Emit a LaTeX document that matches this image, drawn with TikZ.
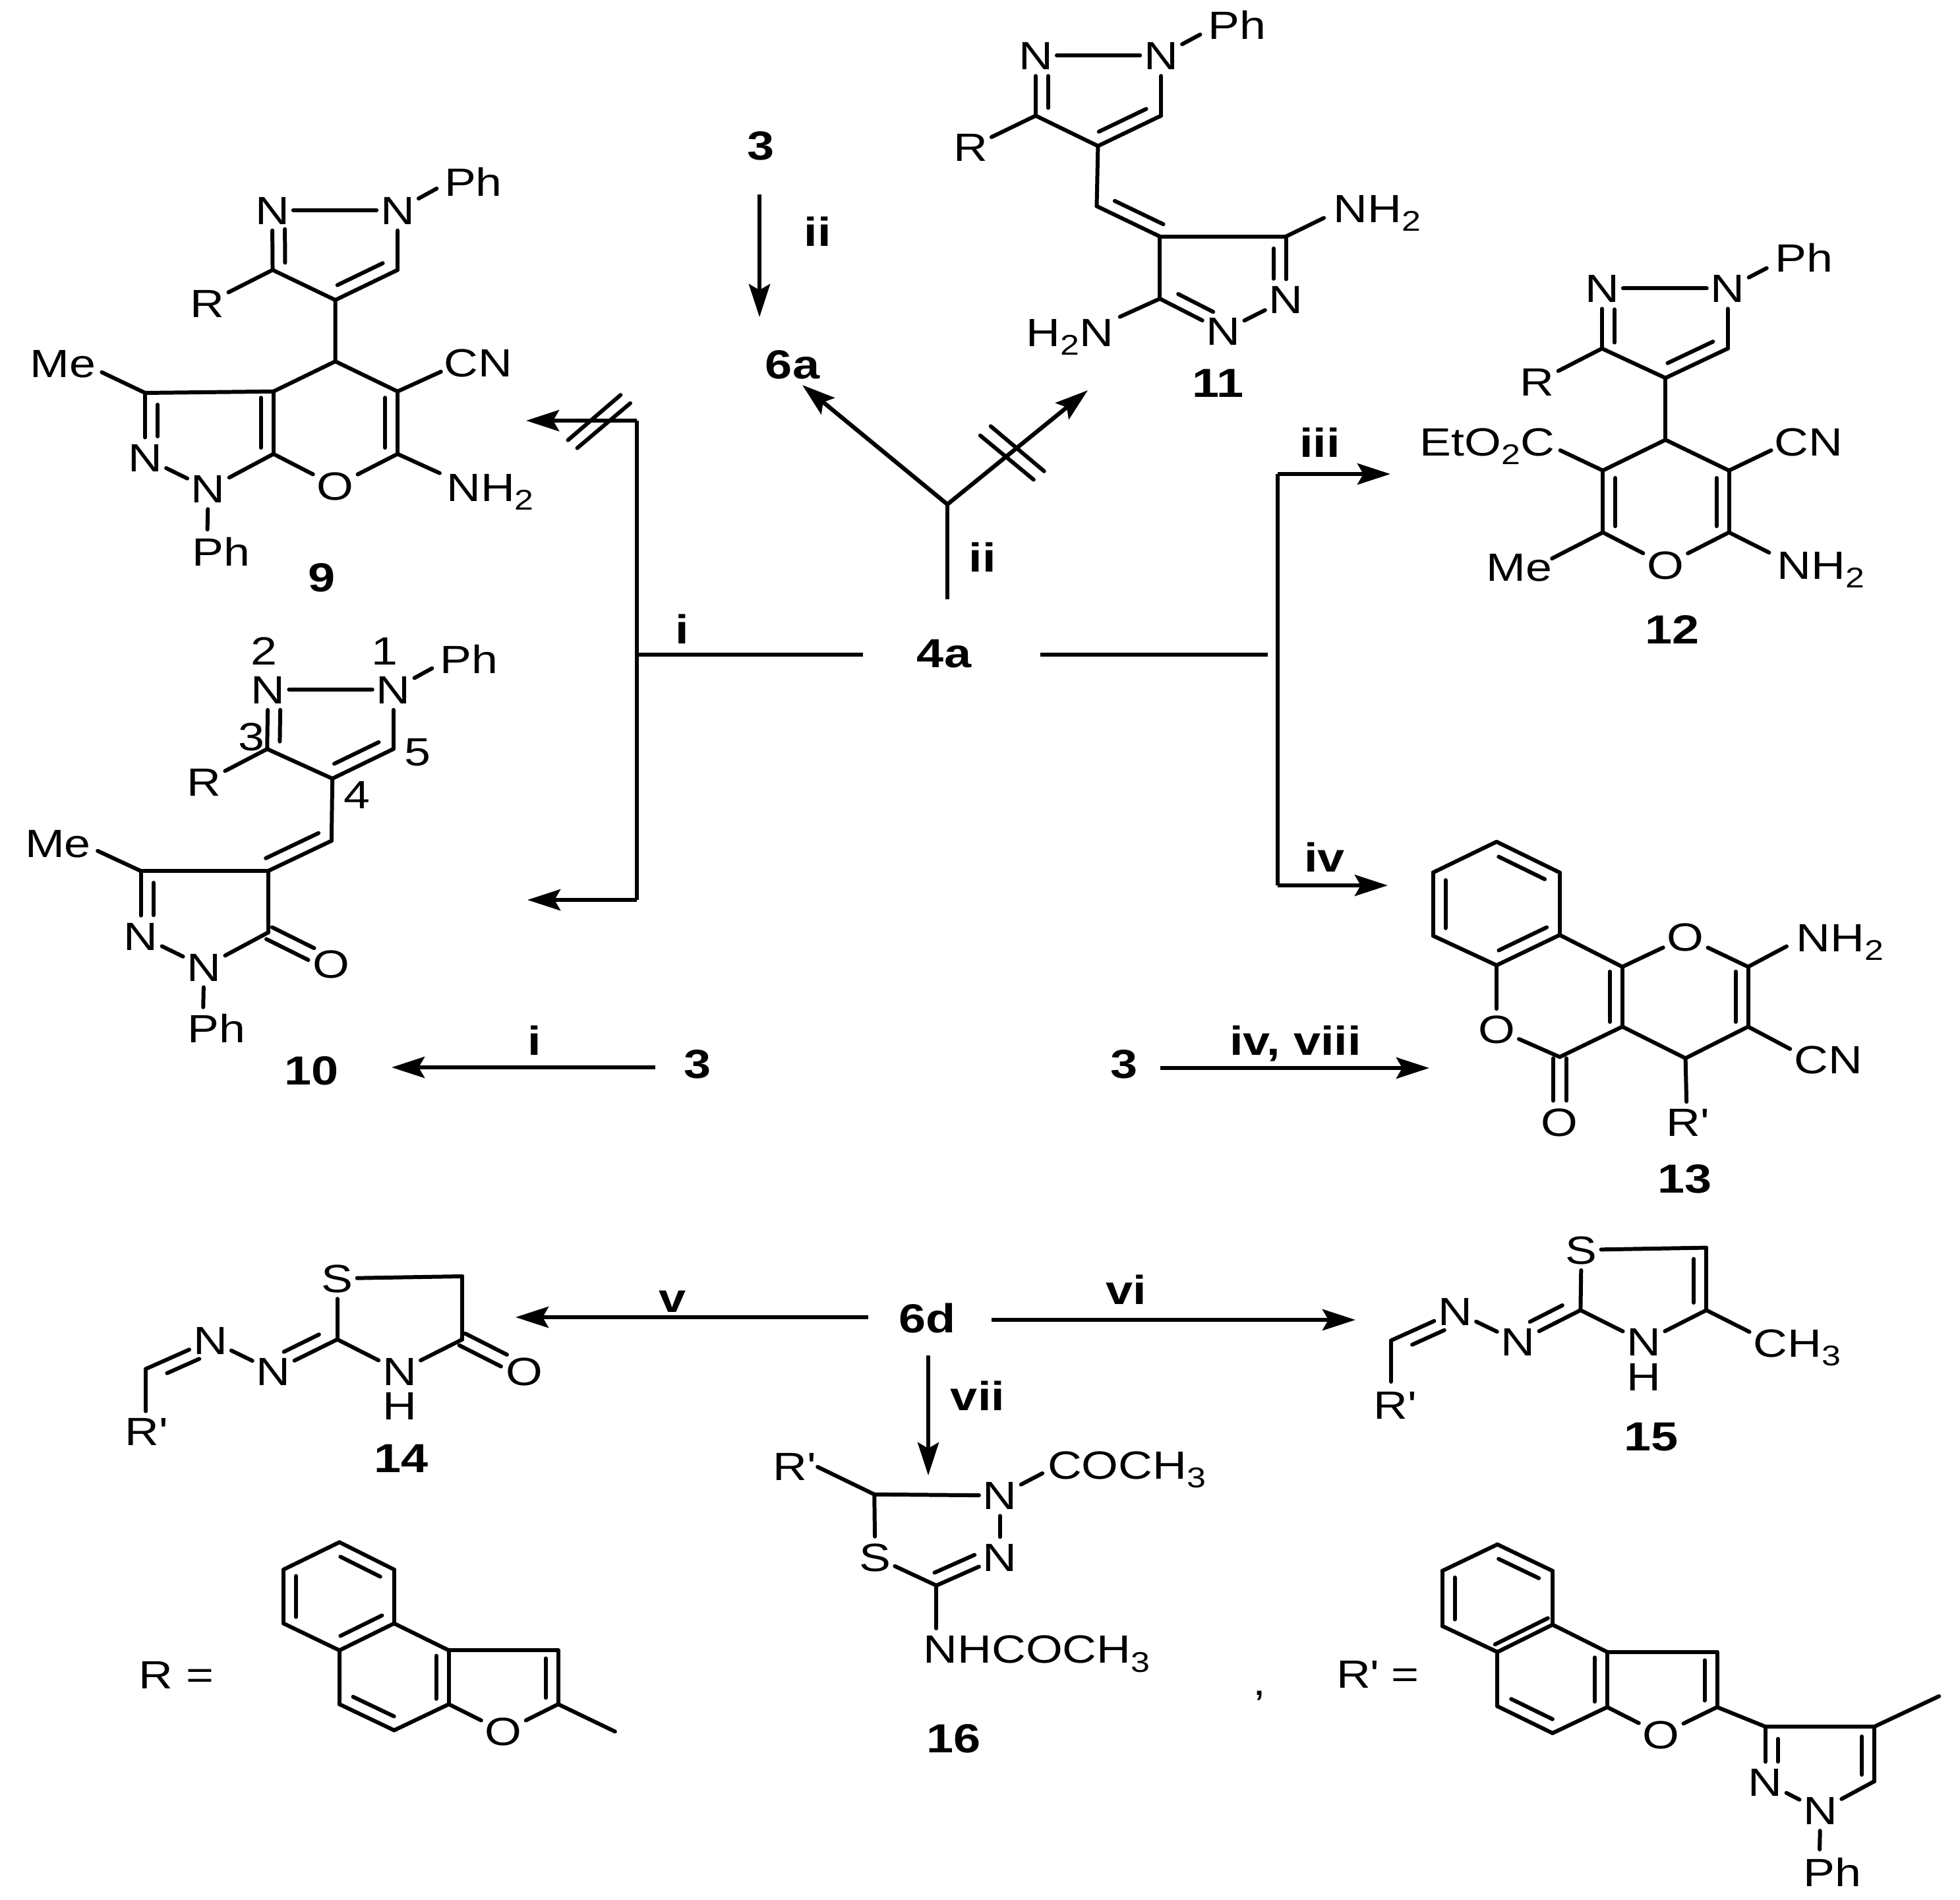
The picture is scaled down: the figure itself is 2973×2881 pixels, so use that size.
\documentclass[tikz,border=0pt]{standalone}
\usepackage{fontspec}
\setmainfont[FakeStretch=1.2]{Liberation Sans}
\usetikzlibrary{calc,arrows.meta}
\tikzset{
  lab/.style={font=\fontsize{17}{20}\selectfont,inner xsep=1.5pt,inner ysep=2.5pt,text height=12.2pt,text depth=0pt},
  blab/.style={font=\fontsize{17.5}{20}\selectfont\bfseries,inner xsep=1.5pt,inner ysep=2.5pt,text height=12.6pt,text depth=0pt},
  bond/.style={line width=1.7pt,line cap=round,line join=round,black},
  rxn/.style={line width=1.8pt,line cap=butt,line join=miter,black},
  arr/.style={rxn,-{Stealth[length=0.5cm,width=0.32cm,inset=0.09cm]}}
}
\newcommand\sbs[1]{\raisebox{-.22em}[0pt][0pt]{\fontsize{12.3}{14}\selectfont #1}}
\newcommand\Rp{R\textquotesingle}
\newcommand\vx[2]{\foreach \vn/\vp in {#2}{\coordinate (#1\vn) at (\vp);}}
\newcommand\nd[3]{\node[lab] (#1) at (#2) {#3};}
\newcommand\nb[3]{\node[blab] (#1) at (#2) {#3};}
\newcommand\dbl[6]{\draw[bond] (#1)--(#2);\draw[bond] ($(#1)!#3!(#2)!#6!#5:(#2)$)--($(#1)!#4!(#2)!#6!#5:(#2)$);}
\newcommand\dL[4]{\dbl{#1}{#2}{#3}{#4}{90}{.19cm}}
\newcommand\dR[4]{\dbl{#1}{#2}{#3}{#4}{-90}{.19cm}}
\newcommand\dC[4]{\draw[bond] ($(#1)!#3!(#2)!.1cm!90:(#2)$)--($(#1)!#4!(#2)!.1cm!90:(#2)$);\draw[bond] ($(#1)!#3!(#2)!.1cm!-90:(#2)$)--($(#1)!#4!(#2)!.1cm!-90:(#2)$);}
\begin{document}
\begin{tikzpicture}[x=.01cm,y=-.01cm]
\useasboundingbox (0,0) rectangle (2973,2881);
\fill[white] (0,0) rectangle (2973,2881);
% ---------- reaction labels and arrows
\nb{t3a}{1154,220}{3}
\nb{tiia}{1240,351}{ii}
\nb{t6a}{1202,552}{6a}
\nb{tiib}{1490,845}{ii}
\nb{t4a}{1432,990}{4a}
\nb{tia}{1035,954}{i}
\nb{tiii}{2002,671}{iii}
\nb{tiv}{2009,1300}{iv}
\nb{t3b}{1058,1613}{3}
\nb{t3c}{1705,1613}{3}
\nb{tib}{811,1578}{i}
\nb{tivv}{1965,1578}{iv, viii}
\nb{tv}{1020,1968}{v}
\nb{t6d}{1407,1999}{6d}
\nb{tvi}{1708,1956}{vi}
\nb{tvii}{1483,2117}{vii}
\vx{k}{a1/{1152,295},a2/{1152,481},y0/{1437,909},y1/{1437,765},y2/{1217,584},y3/{1650,592},
 l1/{1309,993},l2/{966,993},l3/{966,638},l4/{798,638},l5/{966,1365},l6/{800,1365},
 r1/{1578,993},r2/{1923,993},r3/{1938,719},r4/{2109,719},r5/{1938,1343},r6/{2105,1343},
 b1/{994,1619},b2/{594,1619},b3/{1760,1620},b4/{2168,1620},
 v1/{1317,1998},v2/{782,1998},w1/{1504,2002},w2/{2056,2002},u1/{1408,2056},u2/{1408,2238}}
\draw[arr] (ka1)--(ka2);
\draw[rxn] (ky0)--(ky1);
\draw[arr] (ky1)--(ky2);
\draw[arr] (ky1)--(ky3);
\draw[rxn] (kl1)--(kl2);
\draw[arr] (kl3)--(kl4);
\draw[rxn] (kl3)--(kl5);
\draw[arr] (kl5)--(kl6);
\draw[rxn] (kr1)--(kr2);
\draw[arr] (kr3)--(kr4);
\draw[rxn] (kr3)--(kr5);
\draw[arr] (kr5)--(kr6);
\draw[arr] (kb1)--(kb2);
\draw[arr] (kb3)--(kb4);
\draw[arr] (kv1)--(kv2);
\draw[arr] (kw1)--(kw2);
\draw[arr] (ku1)--(ku2);
% ---------- compound 9
\begin{scope}[shift={(0cm,-2cm)},x=.006378cm,y=-.004464cm]
\nd{An2}{647,265}{N}\nd{An1}{945,265}{N}\nd{Aph}{1125,170}{Ph}\nd{Ar}{493,580}{R}
\nd{Ame}{150,785}{Me}\nd{Acn}{1137,782}{CN}\nd{Anh}{1165,1205}{NH\sbs{2}}
\nd{An3}{345,1105}{N}\nd{An4}{495,1210}{N}\nd{Ao}{797,1200}{O}\nd{Aph2}{525,1425}{Ph}
\nb{Alab}{765,1510}{9}
\vx{A}{c3/{648,468},c4/{797,570},c5/{945,468},c6/{797,778},c7/{945,880},c8/{945,1092},c9/{650,1092},c10/{650,880},c11/{345,885},
 ep/{1038,192},ecn/{1048,813},enh/{1045,1157},eme/{242,815},ep2/{493,1348},
 h1/{1350,1045},h2/{1475,892},h3/{1372,1072},h4/{1498,920}}
\dL{An2}{Ac3}{.32}{.88}
\draw[bond] (An2)--(An1);\draw[bond] (An1)--(Ac5);\draw[bond] (Ac3)--(Ac4);
\dL{Ac4}{Ac5}{.12}{.85}
\draw[bond] (Ac4)--(Ac6)--(Ac7);\draw[bond] (Ar)--(Ac3);\draw[bond] (An1)--(Aep);
\draw[bond] (Ac7)--(Aecn);
\dR{Ac7}{Ac8}{.1}{.9}
\draw[bond] (Ac8)--(Aenh);\draw[bond] (Ac8)--(Ao);\draw[bond] (Ao)--(Ac9);
\dL{Ac9}{Ac10}{.1}{.9}
\draw[bond] (Ac10)--(Ac6);\draw[bond] (Ac10)--(Ac11);\draw[bond] (Ac11)--(Aeme);
\dL{Ac11}{An3}{.18}{.67}
\draw[bond] (An3)--(An4);\draw[bond] (An4)--(Ac9);\draw[bond] (An4)--(Aep2);
\draw[bond] (Ah1)--(Ah2);\draw[bond] (Ah3)--(Ah4);
\end{scope}
% ---------- compound 10
\begin{scope}[shift={(0cm,-9cm)},x=.006378cm,y=-.005102cm]
\nd{Bn2}{637,285}{N}\nd{Bn1}{935,285}{N}\nd{Bph}{1115,195}{Ph}\nd{Br}{485,560}{R}\nd{Bme}{138,742}{Me}
\nd{Bn3}{335,1018}{N}\nd{Bn4}{485,1110}{N}\nd{Bo}{788,1102}{O}\nd{Bph2}{515,1293}{Ph}
\nd{Bd2}{627,170}{2}\nd{Bd1}{915,170}{1}\nd{Bd3}{598,425}{3}\nd{Bd4}{848,597}{4}\nd{Bd5}{993,470}{5}
\nb{Blab}{740,1418}{10}
\vx{B}{c3/{635,462},c4/{790,550},c5/{935,462},c6/{788,735},c7/{637,825},c8/{335,825},c9/{637,1008},
 ep/{1027,222},eme/{232,765},ep2/{483,1230}}
\dL{Bn2}{Bc3}{.34}{.87}
\draw[bond] (Bn2)--(Bn1);\draw[bond] (Bn1)--(Bc5);\draw[bond] (Bc3)--(Bc4);
\dL{Bc4}{Bc5}{.12}{.85}
\draw[bond] (Bc4)--(Bc6);\draw[bond] (Br)--(Bc3);\draw[bond] (Bn1)--(Bep);
\dR{Bc6}{Bc7}{.12}{.95}
\draw[bond] (Bc7)--(Bc8);\draw[bond] (Bc8)--(Beme);
\dL{Bc8}{Bn3}{.18}{.68}
\draw[bond] (Bn3)--(Bn4);\draw[bond] (Bn4)--(Bc9);\draw[bond] (Bc7)--(Bc9);
\dC{Bc9}{Bo}{.02}{.68}
\draw[bond] (Bn4)--(Bep2);
\end{scope}
% ---------- compound 11 and the blocked arrow
\begin{scope}[shift={(11cm,0cm)},x=.006378cm,y=-.006378cm]
\nd{Cn2}{737,132}{N}\nd{Cn1}{1035,132}{N}\nd{Cph}{1215,60}{Ph}\nd{Cr}{582,350}{R}
\nd{Cn3}{1332,712}{N}\nd{Cn4}{1183,787}{N}\nd{Chn}{818,790}{H\sbs{2}N}\nd{Cnh}{1549,495}{NH\sbs{2}}
\nb{Clab}{1170,910}{11}
\vx{C}{c3/{737,275},c4/{885,347},c5/{1035,275},c6/{882,490},c7/{1032,562},c8/{1332,562},c9/{1032,710},
 ep/{1128,82},ehn/{937,753},enh/{1422,518},h1/{605,1035},h2/{732,1140},h3/{630,1013},h4/{757,1120}}
\dL{Cn2}{Cc3}{.34}{.87}
\draw[bond] (Cn2)--(Cn1);\draw[bond] (Cn1)--(Cc5);\draw[bond] (Cc3)--(Cc4);
\dL{Cc4}{Cc5}{.1}{.85}
\draw[bond] (Cc4)--(Cc6);\draw[bond] (Cr)--(Cc3);\draw[bond] (Cn1)--(Cep);
\dL{Cc6}{Cc7}{.2}{.97}
\draw[bond] (Cc7)--(Cc8);
\dR{Cc8}{Cn3}{.19}{.67}
\draw[bond] (Cn3)--(Cn4);
\dL{Cc9}{Cn4}{.2}{.75}
\draw[bond] (Cc7)--(Cc9);\draw[bond] (Cc9)--(Cehn);\draw[bond] (Cc8)--(Cenh);
\draw[bond] (Ch1)--(Ch2);\draw[bond] (Ch3)--(Ch4);
\end{scope}
% ---------- compound 12
\begin{scope}[shift={(20cm,-3cm)},x=.006205cm,y=-.006378cm]
\nd{Dn2}{690,215}{N}\nd{Dn1}{997,215}{N}\nd{Dph}{1183,143}{Ph}\nd{Dr}{532,437}{R}\nd{Do}{845,872}{O}
\nd{Dest}{410,580}{EtO\sbs{2}C}\nd{Dcn}{1195,580}{CN}\nd{Dme}{488,878}{Me}\nd{Dnh}{1224,873}{NH\sbs{2}}
\nb{Dlab}{862,1025}{12}
\vx{D}{c3/{690,358},c4/{845,428},c5/{997,358},c6/{845,575},c7/{692,648},c8/{1000,648},c9/{692,795},c10/{1000,795},
 ep/{1092,167},ees/{588,600},ecn/{1103,600},eme/{568,857},enh/{1098,843}}
\dL{Dn2}{Dc3}{.35}{.9}
\draw[bond] (Dn2)--(Dn1);\draw[bond] (Dn1)--(Dc5);\draw[bond] (Dc3)--(Dc4);
\dL{Dc4}{Dc5}{.12}{.85}
\draw[bond] (Dc4)--(Dc6);\draw[bond] (Dr)--(Dc3);\draw[bond] (Dn1)--(Dep);
\draw[bond] (Dc7)--(Dc6)--(Dc8);
\dL{Dc7}{Dc9}{.12}{.9}
\dR{Dc8}{Dc10}{.12}{.9}
\draw[bond] (Dc9)--(Do);\draw[bond] (Do)--(Dc10);
\draw[bond] (Dc7)--(Dees);\draw[bond] (Dc8)--(Decn);\draw[bond] (Dc9)--(Deme);\draw[bond] (Dc10)--(Denh);
\end{scope}
% ---------- compound 13
\begin{scope}[shift={(18cm,-12.5cm)},x=.007481cm,y=-.003827cm]
\nd{Eo1}{627,810}{O}\nd{Eo2}{755,1178}{O}\nd{Eo3}{1010,445}{O}\nd{Enh}{1323,447}{NH\sbs{2}}
\nd{Ecn}{1300,930}{CN}\nd{Erp}{1013,1178}{\Rp}\nb{Elab}{1008,1400}{13}
\vx{E}{b1/{627,68},b2/{755,190},b3/{755,437},b4/{627,557},b5/{498,440},b6/{498,190},c/{755,920},c2/{882,800},c3/{882,563},c4/{1137,563},c5/{1137,800},c6/{1010,925},
 enh/{1215,482},ecn/{1222,888}}
\dR{Eb1}{Eb2}{.12}{.85}
\draw[bond] (Eb2)--(Eb3);
\dR{Eb3}{Eb4}{.12}{.88}
\draw[bond] (Eb4)--(Eb5);
\dR{Eb5}{Eb6}{.12}{.88}
\draw[bond] (Eb6)--(Eb1);
\draw[bond] (Eb4)--(Eo1);\draw[bond] (Eo1)--(Ec);
\dC{Ec}{Eo2}{.02}{.67}
\draw[bond] (Ec)--(Ec2);
\dL{Ec2}{Ec3}{.08}{.92}
\draw[bond] (Ec3)--(Eb3);\draw[bond] (Ec3)--(Eo3);\draw[bond] (Eo3)--(Ec4);
\dR{Ec4}{Ec5}{.08}{.92}
\draw[bond] (Ec5)--(Ec6)--(Ec2);
\draw[bond] (Ec4)--(Eenh);\draw[bond] (Ec5)--(Eecn);\draw[bond] (Ec6)--(Erp);
\end{scope}
% ---------- compound 14 and R
\begin{scope}[shift={(1cm,-18.5cm)},x=.006378cm,y=-.006378cm]
\nd{Fs}{645,138}{S}\nd{Fn}{793,358}{N}\node[lab,inner sep=0pt] (Fh) at (793,440) {H};\nd{Fo}{1090,358}{O}\nd{Fn2}{493,358}{N}\nd{Fn3}{343,285}{N}
\nd{Frp}{190,502}{\Rp}\nb{Flab}{797,565}{14}
\vx{F}{c2/{645,283},c4/{942,283},c5/{942,133},c/{190,353}}
\draw[bond] (Fs)--(Fc5);\draw[bond] (Fs)--(Fc2);\draw[bond] (Fc2)--(Fn);\draw[bond] (Fn)--(Fc4);\draw[bond] (Fc4)--(Fc5);
\dC{Fc4}{Fo}{.0}{.67}
\dR{Fc2}{Fn2}{.2}{.75}
\draw[bond] (Fn2)--(Fn3);
\dR{Fc}{Fn3}{.25}{.75}
\draw[bond] (Fc)--(Frp);
\nd{Greq}{262,1080}{R =}\nd{Go}{1040,1215}{O}
\vx{G}{r1/{650,765},r2/{780,830},r3/{780,958},r4/{650,1022},r5/{517,958},r6/{517,830},s1/{910,1022},s2/{910,1150},s3/{780,1212},s4/{650,1150},f1/{1170,1022},f2/{1170,1150},m/{1305,1215}}
\dR{Gr1}{Gr2}{.12}{.85}
\draw[bond] (Gr2)--(Gr3);
\dR{Gr3}{Gr4}{.12}{.88}
\draw[bond] (Gr4)--(Gr5);
\dR{Gr5}{Gr6}{.12}{.88}
\draw[bond] (Gr6)--(Gr1);\draw[bond] (Gr3)--(Gs1);
\dR{Gs1}{Gs2}{.1}{.9}
\draw[bond] (Gs2)--(Gs3);
\dR{Gs3}{Gs4}{.1}{.85}
\draw[bond] (Gs4)--(Gr4);\draw[bond] (Gs1)--(Gf1);
\dR{Gf1}{Gf2}{.15}{.88}
\draw[bond] (Gf2)--(Go);\draw[bond] (Go)--(Gs2);\draw[bond] (Gf2)--(Gm);
\end{scope}
% ---------- compound 16
\begin{scope}[shift={(11cm,-18.5cm)},x=.00574cm,y=-.005421cm]
\nd{Hrp}{180,688}{\Rp}\nd{Hn}{725,770}{N}\nd{Hcc}{1060,685}{COCH\sbs{3}}\nd{Hn2}{725,943}{N}\nd{Hs}{395,942}{S}
\nd{Hnh}{822,1200}{NHCOCH\sbs{3}}\nd{Hcm}{1410,1290}{,}\nb{Hlab}{603,1448}{16}
\vx{H}{c/{393,767},c2/{557,1022},erp/{243,690},ecc/{837,708},enh/{557,1142}}
\draw[bond] (Herp)--(Hc);\draw[bond] (Hc)--(Hn);\draw[bond] (Hn)--(Hecc);\draw[bond] (Hn)--(Hn2);
\draw[bond] (Hc)--(Hs);\draw[bond] (Hs)--(Hc2);
\dL{Hc2}{Hn2}{.05}{.68}
\draw[bond] (Hc2)--(Henh);
\end{scope}
% ---------- compound 15 and R'
\begin{scope}[shift={(19.5cm,-18.5cm)},x=.006524cm,y=-.006575cm]
\nd{Is}{685,68}{S}\nd{In}{830,280}{N}\node[lab,inner sep=0pt] (Ih) at (830,360) {H};\nd{Ich}{1186,283}{CH\sbs{3}}\nd{In2}{538,280}{N}\nd{In3}{392,210}{N}
\nd{Irp}{251,425}{\Rp}\nb{Ilab}{847,497}{15}
\vx{I}{c2/{683,207},c4/{975,207},c5/{975,63},c/{243,277},ech/{1075,257},erp/{243,372}}
\draw[bond] (Is)--(Ic5);\draw[bond] (Is)--(Ic2);
\dR{Ic5}{Ic4}{.18}{.88}
\draw[bond] (Ic2)--(In);\draw[bond] (In)--(Ic4);\draw[bond] (Ic4)--(Iech);
\dR{Ic2}{In2}{.2}{.72}
\draw[bond] (In2)--(In3);
\dR{Ic}{In3}{.25}{.75}
\draw[bond] (Ic)--(Ierp);
\nd{Jreq}{212,1045}{\Rp{} =}\nd{Jo}{870,1185}{O}\nd{Jn1}{1240,1360}{N}\nd{Jn2}{1112,1295}{N}\nd{Jph}{1268,1503}{Ph}
\vx{J}{r1/{490,747},r2/{618,808},r3/{618,932},r4/{490,995},r5/{362,935},r6/{362,808},s1/{745,995},s2/{745,1122},s3/{618,1182},s4/{490,1120},f1/{1000,995},f2/{1000,1122},p3/{1112,1167},p4/{1365,1167},p5/{1365,1293},m/{1515,1097},ep/{1238,1450}}
\dR{Jr1}{Jr2}{.12}{.85}
\draw[bond] (Jr2)--(Jr3);
\dbl{Jr3}{Jr4}{.02}{.98}{-90}{.12cm}
\draw[bond] (Jr4)--(Jr5);
\dR{Jr5}{Jr6}{.12}{.88}
\draw[bond] (Jr6)--(Jr1);\draw[bond] (Jr3)--(Js1);
\dR{Js1}{Js2}{.1}{.9}
\draw[bond] (Js2)--(Js3);
\dR{Js3}{Js4}{.1}{.85}
\draw[bond] (Js4)--(Jr4);\draw[bond] (Js1)--(Jf1);
\dR{Jf1}{Jf2}{.15}{.88}
\draw[bond] (Jf2)--(Jo);\draw[bond] (Jo)--(Js2);\draw[bond] (Jf2)--(Jp3);
\draw[bond] (Jp3)--(Jp4);
\dL{Jp3}{Jn2}{.22}{.63}
\draw[bond] (Jn2)--(Jn1);\draw[bond] (Jn1)--(Jp5);
\dR{Jp4}{Jp5}{.18}{.88}
\draw[bond] (Jp4)--(Jm);\draw[bond] (Jn1)--(Jep);
\end{scope}
\end{tikzpicture}
\end{document}
